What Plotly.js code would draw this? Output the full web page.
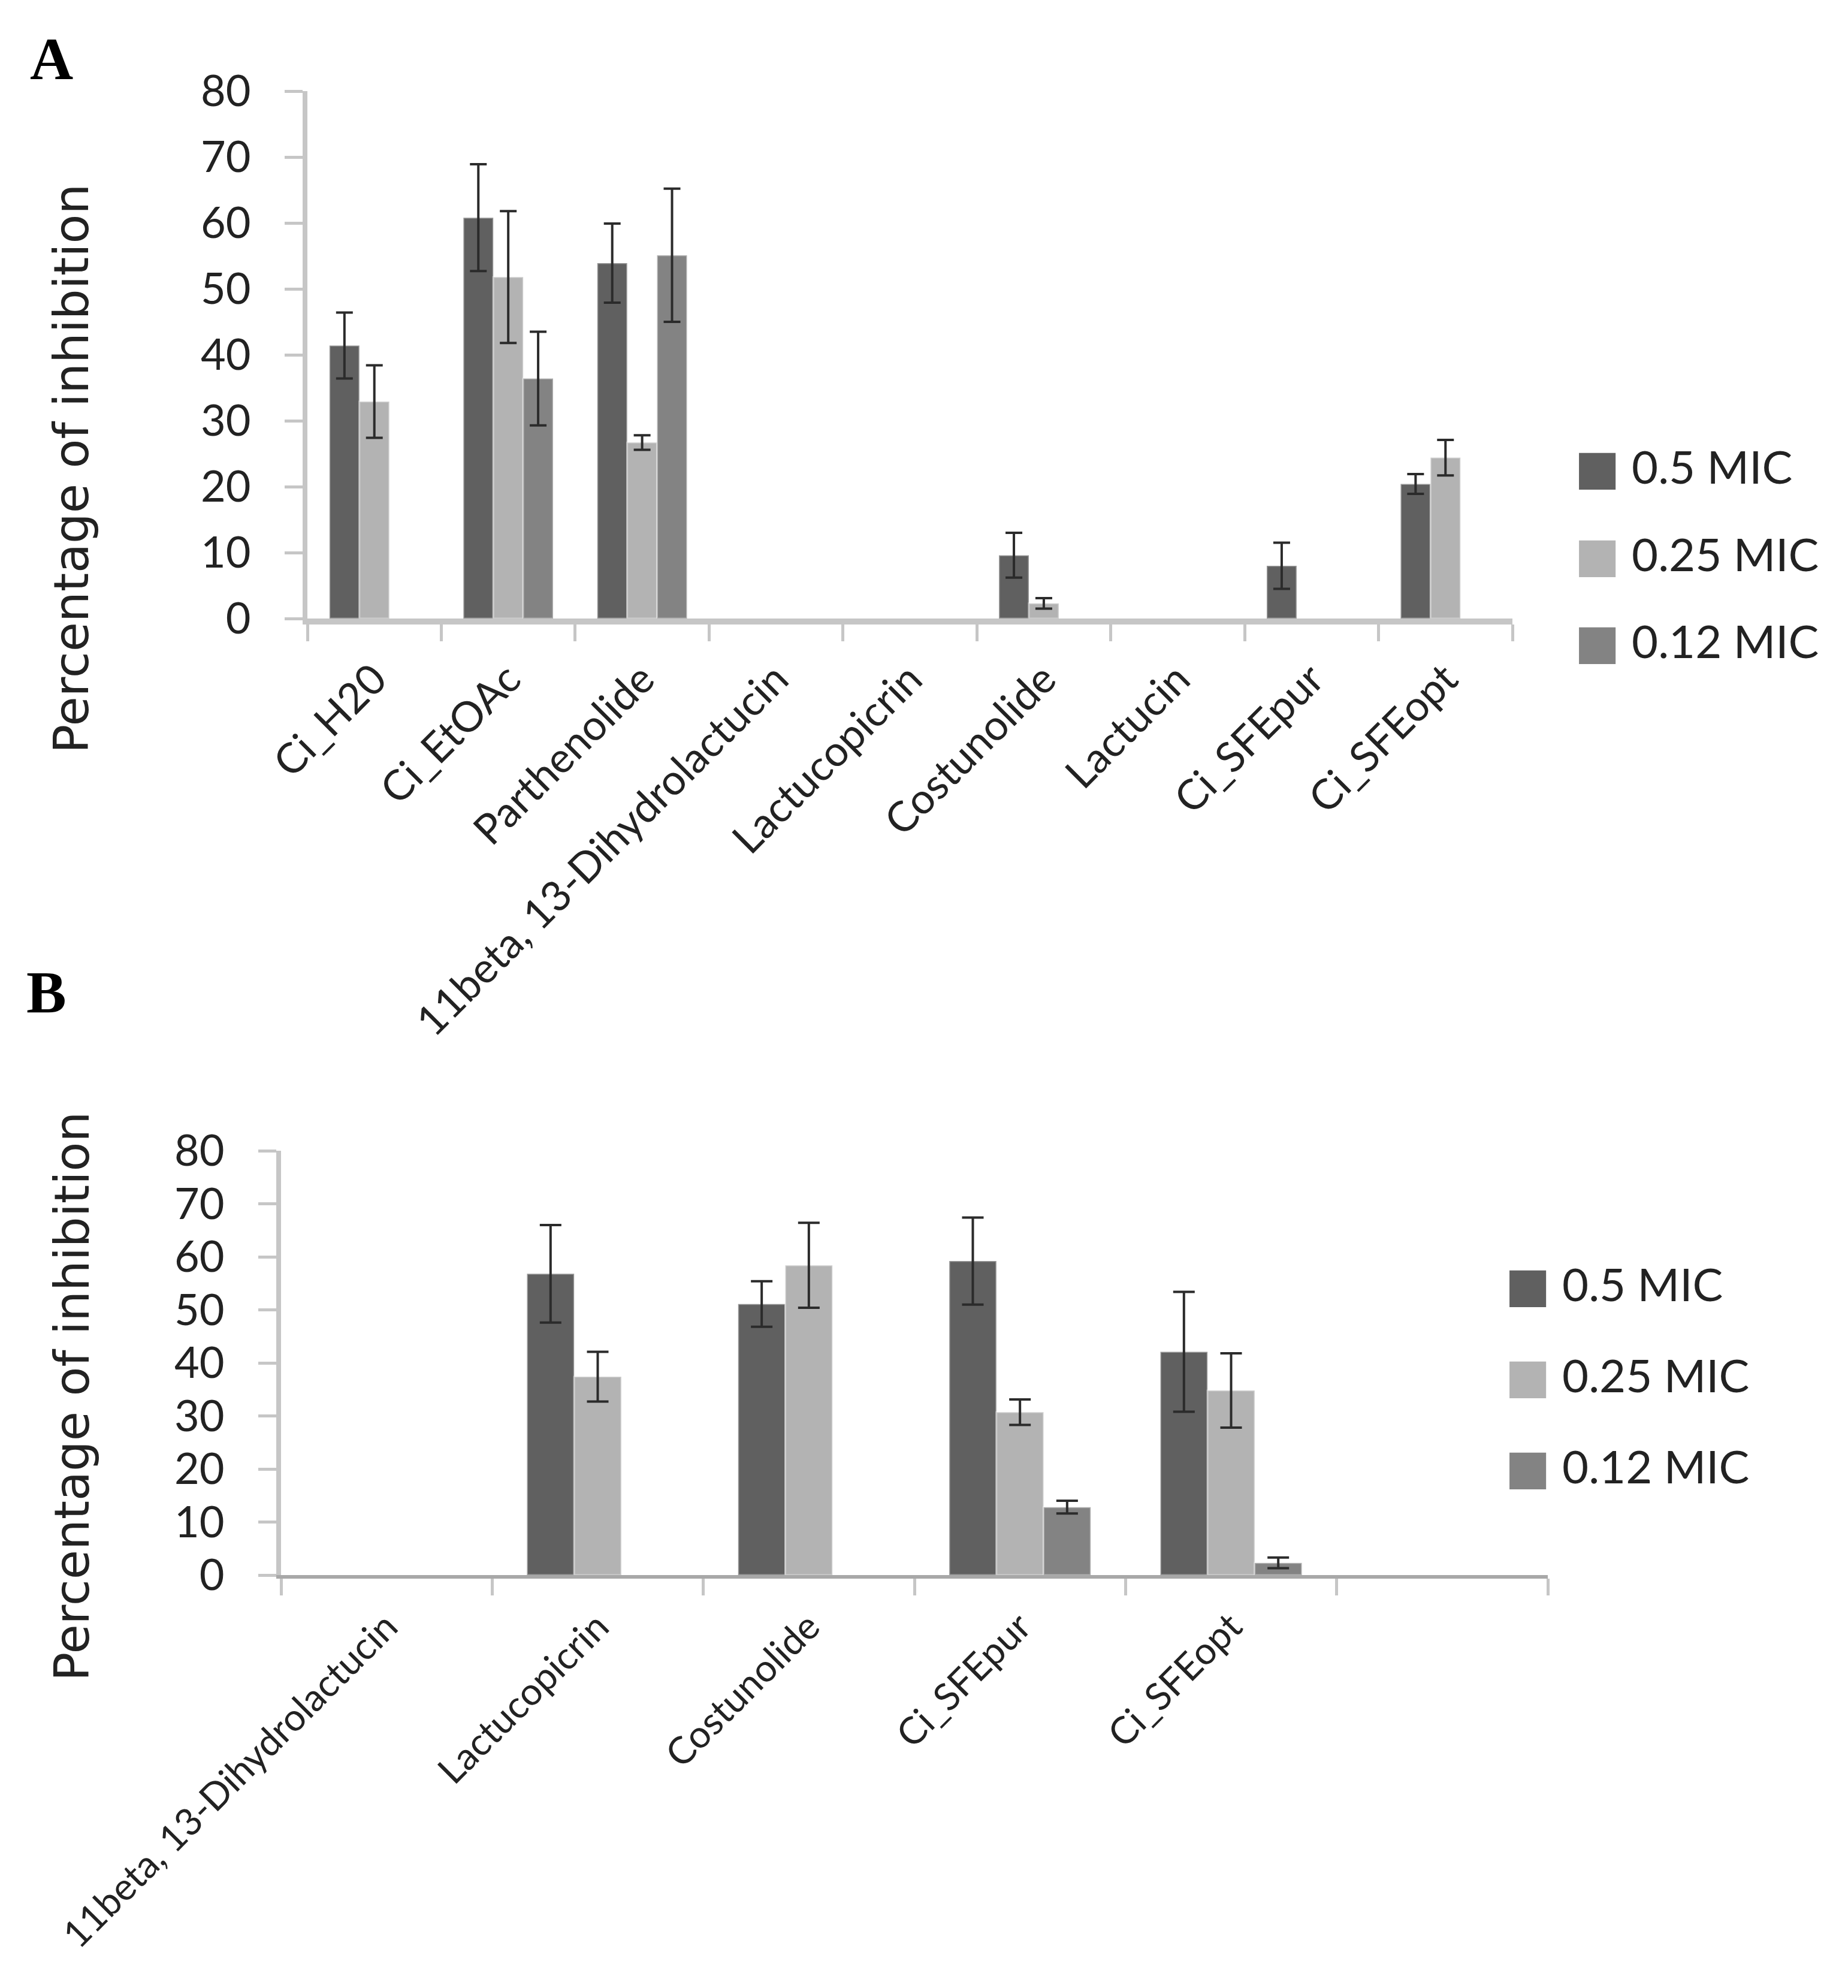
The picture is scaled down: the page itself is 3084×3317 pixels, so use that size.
<!DOCTYPE html>
<html>
<head>
<meta charset="utf-8">
<script src="https://cdn.plot.ly/plotly-3.0.1.min.js"></script>
<style>
  html, body { margin: 0; padding: 0; background: #fff; }
</style>
</head>
<body>
<div id="chart"></div>
<script>
// panel A
const categoriesA = ["Ci_H20", "Ci_EtOAc", "Parthenolide", "11beta, 13-Dihydrolactucin",
                     "Lactucopicrin", "Costunolide", "Lactucin", "Ci_SFEpur", "Ci_SFEopt"];
const mic05A    = [41.4, 60.8, 53.9, null, null, 9.6, null, 8.0, 20.4];
const mic05ErrA = [5.0, 8.1, 6.0, null, null, 3.4, null, 3.5, 1.5];
const mic025A    = [32.9, 51.8, 26.7, null, null, 2.3, null, null, 24.4];
const mic025ErrA = [5.5, 10.0, 1.1, null, null, 0.8, null, null, 2.7];
const mic012A    = [null, 36.4, 55.1, null, null, null, null, null, null];
const mic012ErrA = [null, 7.1, 10.1, null, null, null, null, null, null];

// panel B (last slot is empty in the original)
const categoriesB = ["11beta, 13-Dihydrolactucin", "Lactucopicrin", "Costunolide",
                     "Ci_SFEpur", "Ci_SFEopt", " "];
const mic05B    = [null, 56.8, 51.1, 59.2, 42.1, null];
const mic05ErrB = [null, 9.2, 4.3, 8.2, 11.3, null];
const mic025B    = [null, 37.4, 58.4, 30.7, 34.8, null];
const mic025ErrB = [null, 4.7, 8.0, 2.4, 7.0, null];
const mic012B    = [null, null, null, 12.8, 2.3, null];
const mic012ErrB = [null, null, null, 1.2, 1.0, null];

const seriesNames  = ["0.5 MIC", "0.25 MIC", "0.12 MIC"];
const seriesColors = ["#606060", "#b3b3b3", "#838383"];

const W = 3084, H = 3317;
const px = (x) => x / W;
const py = (y) => 1 - y / H;

const makeBar = (cats, vals, errs, i, xa, ya, capw) => ({
    type: "bar",
    name: seriesNames[i],
    x: cats,
    y: vals,
    xaxis: xa,
    yaxis: ya,
    showlegend: false,
    marker: { color: seriesColors[i], line: { color: "rgba(255,255,255,0.35)", width: 3 } },
    error_y: { type: "data", array: errs, visible: true, color: "#2b2b2b", thickness: 4, width: capw },
});

const traces = [
    makeBar(categoriesA, mic05A, mic05ErrA, 0, "x", "y", 14),
    makeBar(categoriesA, mic025A, mic025ErrA, 1, "x", "y", 14),
    makeBar(categoriesA, mic012A, mic012ErrA, 2, "x", "y", 14),
    makeBar(categoriesB, mic05B, mic05ErrB, 0, "x2", "y2", 18),
    makeBar(categoriesB, mic025B, mic025ErrB, 1, "x2", "y2", 18),
    makeBar(categoriesB, mic012B, mic012ErrB, 2, "x2", "y2", 18),
];

const tickFont = { family: "Lato, 'Open Sans', sans-serif", color: "#222" };

const yAxisBase = {
    range: [0, 80],
    dtick: 10,
    showgrid: false,
    zeroline: false,
    showline: true,
    linecolor: "#c6c6c6",
    linewidth: 8,
    ticks: "outside",
    ticklen: 30,
    tickwidth: 5,
    tickcolor: "#c6c6c6",
    ticklabelstandoff: 42,
    tickfont: Object.assign({ size: 72 }, tickFont),
    fixedrange: true,
};

const xAxisBase = {
    type: "category",
    showgrid: false,
    zeroline: false,
    showline: true,
    ticks: "outside",
    tickson: "boundaries",
    tickwidth: 5,
    tickcolor: "#c6c6c6",
    tickangle: -45,
    fixedrange: true,
};

// legend rows, built from the series arrays
const legendRows = (x0, ys, size) => seriesNames.map((n, i) => ({
    xref: "paper", yref: "paper",
    x: px(x0), y: py(ys[i]),
    xanchor: "left", yanchor: "middle",
    showarrow: false,
    text: '<span style="color:' + seriesColors[i] + ';font-family:DejaVu Sans;font-size:' +
          Math.round(size * 1.05) + 'px">■</span> ' + n,
    font: Object.assign({ size: size }, tickFont),
}));

const layout = {
    width: W,
    height: H,
    margin: { l: 0, r: 0, t: 0, b: 0 },
    paper_bgcolor: "#fff",
    plot_bgcolor: "#fff",
    barmode: "group",
    bargap: 0.33,
    bargroupgap: 0,
    showlegend: false,
    xaxis: Object.assign({}, xAxisBase, {
        domain: [px(513), px(2524)],
        range: [-0.5, 8.5],
        anchor: "y",
        linecolor: "#c6c6c6",
        linewidth: 10,
        ticklen: 28,
        ticklabelstandoff: 22,
        tickfont: Object.assign({ size: 70 }, tickFont),
    }),
    yaxis: Object.assign({}, yAxisBase, {
        domain: [py(1032), py(152)],
        anchor: "x",
    }),
    xaxis2: Object.assign({}, xAxisBase, {
        domain: [px(469), px(2583)],
        range: [-0.5, 5.5],
        anchor: "y2",
        linecolor: "#a8a8a8",
        linewidth: 6,
        ticklen: 28,
        ticklabelstandoff: 18,
        tickfont: Object.assign({ size: 63 }, tickFont),
    }),
    yaxis2: Object.assign({}, yAxisBase, {
        domain: [py(2628), py(1920)],
        anchor: "x2",
    }),
    annotations: [
        { xref: "paper", yref: "paper", x: px(48), y: py(98), xanchor: "left", yanchor: "middle",
          showarrow: false, text: "<b>A</b>",
          font: { family: "Liberation Serif, serif", size: 100, color: "#000" } },
        { xref: "paper", yref: "paper", x: px(42), y: py(1655), xanchor: "left", yanchor: "middle",
          showarrow: false, text: "<b>B</b>",
          font: { family: "Liberation Serif, serif", size: 100, color: "#000" } },
        { xref: "paper", yref: "paper", x: px(120), y: py(782), xanchor: "center", yanchor: "middle",
          showarrow: false, textangle: -90, text: "Percentage of inhibition",
          font: { family: "DejaVu Sans, sans-serif", size: 80, color: "#222" } },
        { xref: "paper", yref: "paper", x: px(120), y: py(2330), xanchor: "center", yanchor: "middle",
          showarrow: false, textangle: -90, text: "Percentage of inhibition",
          font: { family: "DejaVu Sans, sans-serif", size: 80, color: "#222" } },
    ].concat(legendRows(2626, [779, 925, 1070], 76))
     .concat(legendRows(2510, [2143, 2295, 2447], 76)),
};

Plotly.newPlot("chart", traces, layout, { displayModeBar: false, responsive: false, staticPlot: true });
</script>
</body>
</html>
